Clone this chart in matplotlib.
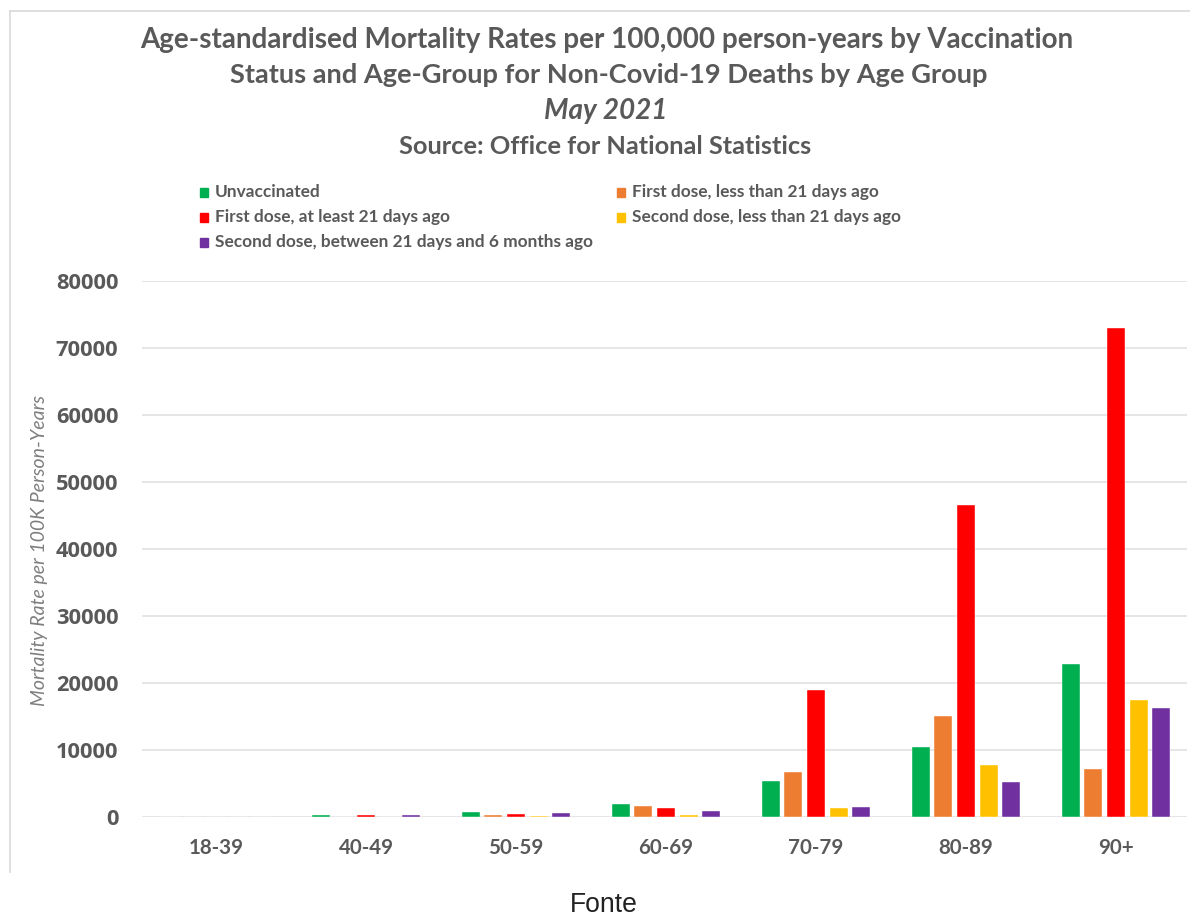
import matplotlib
matplotlib.use("Agg")
import matplotlib.pyplot as plt
import numpy as np
from matplotlib.lines import Line2D
from matplotlib import font_manager as fm

# ---- data ----
categories = ["18-39", "40-49", "50-59", "60-69", "70-79", "80-89", "90+"]
series_names = [
    "Unvaccinated",
    "First dose, less than 21 days ago",
    "First dose, at least 21 days ago",
    "Second dose, less than 21 days ago",
    "Second dose, between 21 days and 6 months ago",
]
unvaccinated = [0, 250, 800, 2000, 5300, 10400, 22800]
first_lt21 = [0, 0, 250, 1650, 6650, 15100, 7150]
first_ge21 = [0, 250, 400, 1400, 18900, 46600, 73000]
second_lt21 = [0, 0, 200, 350, 1350, 7800, 17450]
second_21d_6m = [0, 250, 550, 850, 1500, 5200, 16200]
series_values = [unvaccinated, first_lt21, first_ge21, second_lt21, second_21d_6m]
colors = ["#00B050", "#ED7D31", "#FF0000", "#FFC000", "#7030A0"]
yticks = [0, 10000, 20000, 30000, 40000, 50000, 60000, 70000, 80000]

available = {f.name for f in fm.fontManager.ttflist}
narrow = "Lato" if "Lato" in available else "DejaVu Sans"
wide = "Open Sans" if "Open Sans" in available else "DejaVu Sans"

W, H = 1190, 917
fig = plt.figure(figsize=(W / 100, H / 100), dpi=100)
fig.patch.set_facecolor("white")
renderer = fig.canvas.get_renderer()

def fx(x):
    return x / W

def fy(y):
    return 1 - y / H

def fit_size(text, target_w, **kw):
    kw = {k: v for k, v in kw.items() if k not in ("rotation", "ha", "va")}
    t = fig.text(0, 0, text, fontsize=10, **kw)
    w = t.get_window_extent(renderer=renderer).width
    t.remove()
    return 10 * target_w / w

def fit_text(x, y, text, target_w, **kw):
    s = fit_size(text, target_w, **kw)
    return fig.text(fx(x), fy(y), text, fontsize=s, **kw)

# frame lines (screenshot border)
fig.add_artist(Line2D([fx(10), 1.0], [fy(10.5), fy(10.5)], color="#d9d9d9", lw=1.2))
fig.add_artist(Line2D([fx(9.5), fx(9.5)], [fy(10.5), fy(872)], color="#d9d9d9", lw=1.2))

left, right, top, bottom = 142, 1187, 281, 817
ax = fig.add_axes([fx(left), fy(bottom), fx(right - left), (bottom - top) / H])

x = np.arange(len(categories))
width = 0.12
pitch = 0.151
for i, (vals, c) in enumerate(zip(series_values, colors)):
    ax.bar(x + (i - 2) * pitch, vals, width=width, color=c, edgecolor="white",
           linewidth=0.3, zorder=3)

tc = "#595959"
ysz = fit_size("80000", 63, fontfamily=wide, fontweight="bold")
xsz = fit_size("18-39", 55, fontfamily=narrow, fontweight="bold")

ax.set_xlim(-0.493, 6.473)
ax.set_ylim(0, 80000)
ax.set_yticks(yticks)
ax.set_yticklabels([str(v) for v in yticks], fontfamily=wide, fontweight="bold",
                   fontsize=ysz, color=tc)
ax.set_xticks(x)
ax.set_xticklabels(categories, fontfamily=narrow, fontweight="bold", fontsize=xsz,
                   color=tc)
ax.tick_params(axis="y", length=0, pad=17)
ax.tick_params(axis="x", length=0, pad=15)
ax.grid(axis="y", color="#e3e3e3", lw=1.3, zorder=0)
for s in ax.spines.values():
    s.set_visible(False)
ax.set_facecolor("white")

fit_text(40, 550, "Mortality Rate per 100K Person-Years", 311, rotation=90,
         ha="center", va="center", fontfamily=narrow, fontstyle="italic",
         color="#7f7f7f")

fit_text(607, 40, "Age-standardised Mortality Rates per 100,000 person-years by Vaccination", 935,
         ha="center", va="center", fontfamily=narrow, fontweight="bold", color=tc)
fit_text(609, 75, "Status and Age-Group for Non-Covid-19 Deaths by Age Group", 762,
         ha="center", va="center", fontfamily=narrow, fontweight="bold", color=tc)
fit_text(606, 111, "May 2021", 123, ha="center", va="center", fontfamily=narrow,
         fontweight="bold", fontstyle="italic", color=tc)
fit_text(605, 147, "Source: Office for National Statistics", 414, ha="center", va="center",
         fontfamily=narrow, fontweight="bold", color=tc)

# legend (manual placement in two columns)
lsz = fit_size(series_names[4], 378, fontfamily=narrow, fontweight="bold")
pos = [(200, 192), (617, 192), (200, 217), (617, 217), (200, 242)]
for (px, py), name, c in zip(pos, series_names, colors):
    fig.patches.append(plt.Rectangle((fx(px), fy(py + 4.5)), fx(8), 9 / H,
                                     transform=fig.transFigure, color=c))
    fig.text(fx(px + 15), fy(py), name, ha="left", va="center", fontfamily=narrow,
             fontweight="bold", fontsize=lsz, color=tc)

fit_text(604, 905, "Fonte", 68, ha="center", va="center", fontfamily="Liberation Sans",
         color="#222222")

fig.savefig("out.png", dpi=100, facecolor="white")
